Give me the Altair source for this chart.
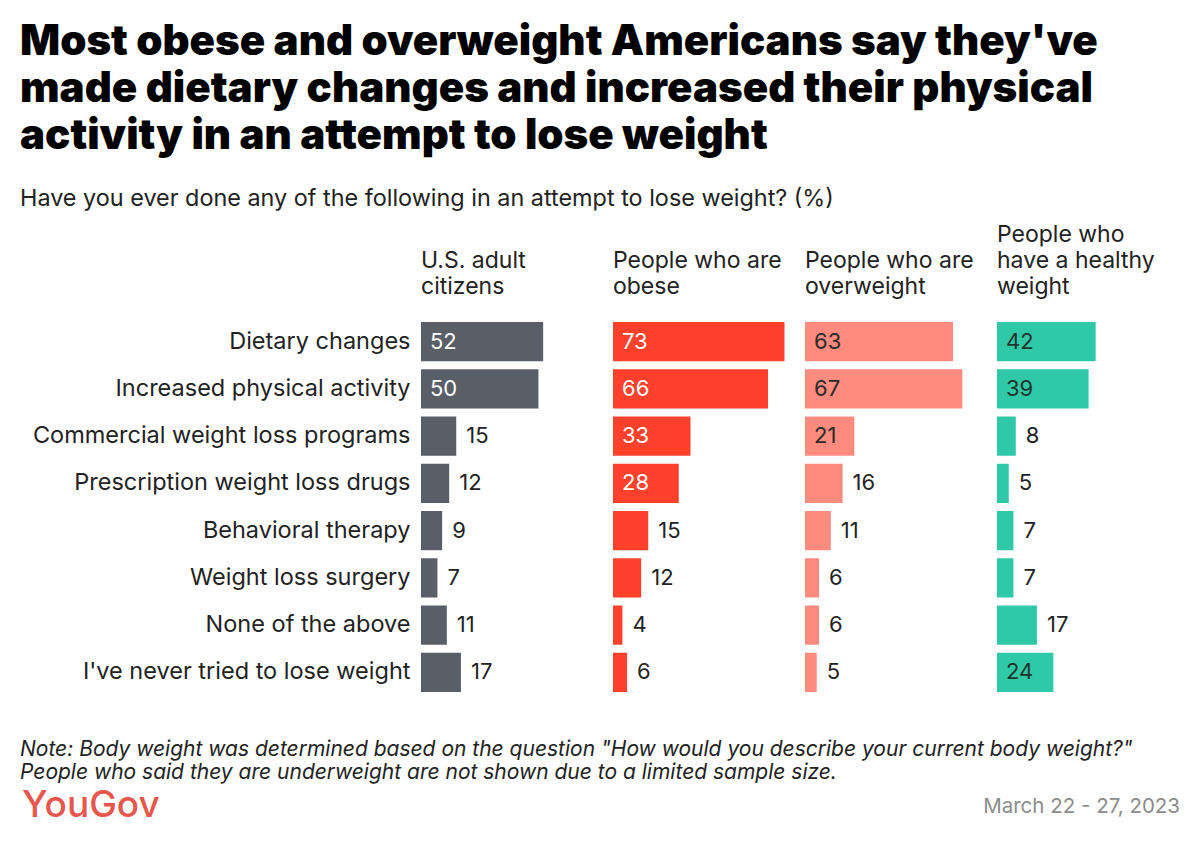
import altair as alt
import pandas as pd

categories = [
    "Dietary changes",
    "Increased physical activity",
    "Commercial weight loss programs",
    "Prescription weight loss drugs",
    "Behavioral therapy",
    "Weight loss surgery",
    "None of the above",
    "I've never tried to lose weight",
]
headers = [
    ["U.S. adult", "citizens"],
    ["People who are", "obese"],
    ["People who are", "overweight"],
    ["People who", "have a healthy", "weight"],
]
us_adults = [52, 50, 15, 12, 9, 7, 11, 17]
obese = [73, 66, 33, 28, 15, 12, 4, 6]
overweight = [63, 67, 21, 16, 11, 6, 6, 5]
healthy = [42, 39, 8, 5, 7, 7, 17, 24]
series = [us_adults, obese, overweight, healthy]

bar_colors = ["#5a5f67", "#ff412c", "#ff8b7e", "#2fc9a7"]
inside_colors = ["#ffffff", "#ffffff", "#2a2a2a", "#22332e"]

title_lines = [
    "Most obese and overweight Americans say they've",
    "made dietary changes and increased their physical",
    "activity in an attempt to lose weight",
]
subtitle = "Have you ever done any of the following in an attempt to lose weight? (%)"
note_lines = [
    'Note: Body weight was determined based on the question "How would you describe your current body weight?"',
    "People who said they are underweight are not shown due to a limited sample size.",
]
date_text = "March 22 - 27, 2023"

FONT = "Inter"
W, H = 175, 378
XMAX = 74.5


def panel(i):
    df = pd.DataFrame({"item": categories, "value": series[i]})
    base = alt.Chart(df)
    if i == 0:
        axis = alt.Axis(
            title=None, domain=False, ticks=False, labelFont=FONT,
            labelFontSize=23.5, labelColor="#222222", labelPadding=11,
            labelLimit=420,
        )
    else:
        axis = None
    y = alt.Y("item:N", sort=categories, title=None, axis=axis,
              scale=alt.Scale(paddingInner=0.17, paddingOuter=0.085))
    xscale = alt.Scale(domain=[0, XMAX], nice=False, zero=True)
    bars = base.mark_bar(color=bar_colors[i]).encode(
        x=alt.X("value:Q", scale=xscale, axis=None), y=y
    )
    inside = base.transform_filter("datum.value >= 20").transform_calculate(
        zero="0"
    ).mark_text(
        align="left", baseline="middle", dx=9, font=FONT, fontSize=22,
        color=inside_colors[i],
    ).encode(x=alt.X("zero:Q", scale=xscale, axis=None), y=y, text="value:Q")
    outside = base.transform_filter("datum.value < 20").mark_text(
        align="left", baseline="middle", dx=10, font=FONT, fontSize=22,
        color="#222222",
    ).encode(x=alt.X("value:Q", scale=xscale, axis=None), y=y, text="value:Q")
    layers = [bars, inside, outside]
    if i == 0:
        one = alt.Chart(pd.DataFrame({"a": [0]}))
        for k, line in enumerate(note_lines):
            layers.append(
                one.mark_text(
                    align="left", baseline="middle", font=FONT, fontSize=21,
                    fontStyle="italic", color="#222222",
                ).encode(x=alt.value(-401), y=alt.value(432 + 23 * k),
                         text=alt.value(line))
            )
        layers.append(
            one.mark_text(
                align="left", baseline="middle", font=FONT, fontSize=37,
                fontWeight=500, color="#e8564c",
            ).encode(x=alt.value(-399), y=alt.value(488), text=alt.value("YouGov"))
        )
        layers.append(
            one.mark_text(
                align="right", baseline="middle", font=FONT, fontSize=20.5,
                color="#8c8c8c",
            ).encode(x=alt.value(759), y=alt.value(489), text=alt.value(date_text))
        )
    return alt.layer(*layers).properties(
        width=W, height=H,
        title=alt.TitleParams(
            text=headers[i], anchor="start", frame="group", font=FONT,
            fontSize=23, fontWeight="normal", color="#222222", lineHeight=26,
            offset=19,
        ),
    )


chart = alt.hconcat(
    *[panel(i) for i in range(4)], spacing=17, bounds="flush"
).properties(
    title=alt.TitleParams(
        text=title_lines, subtitle=subtitle, anchor="start", font=FONT,
        fontSize=42, fontWeight=900, lineHeight=47, color="#000000",
        subtitleFont=FONT, subtitleFontSize=23.4, subtitleColor="#222222",
        subtitlePadding=30, offset=13,
    ),
    padding={"left": 20, "top": 20, "right": 20, "bottom": 20},
    background="white",
).configure_view(stroke=None)

chart.save("out.html", embed_options={"renderer": "svg", "actions": False})
